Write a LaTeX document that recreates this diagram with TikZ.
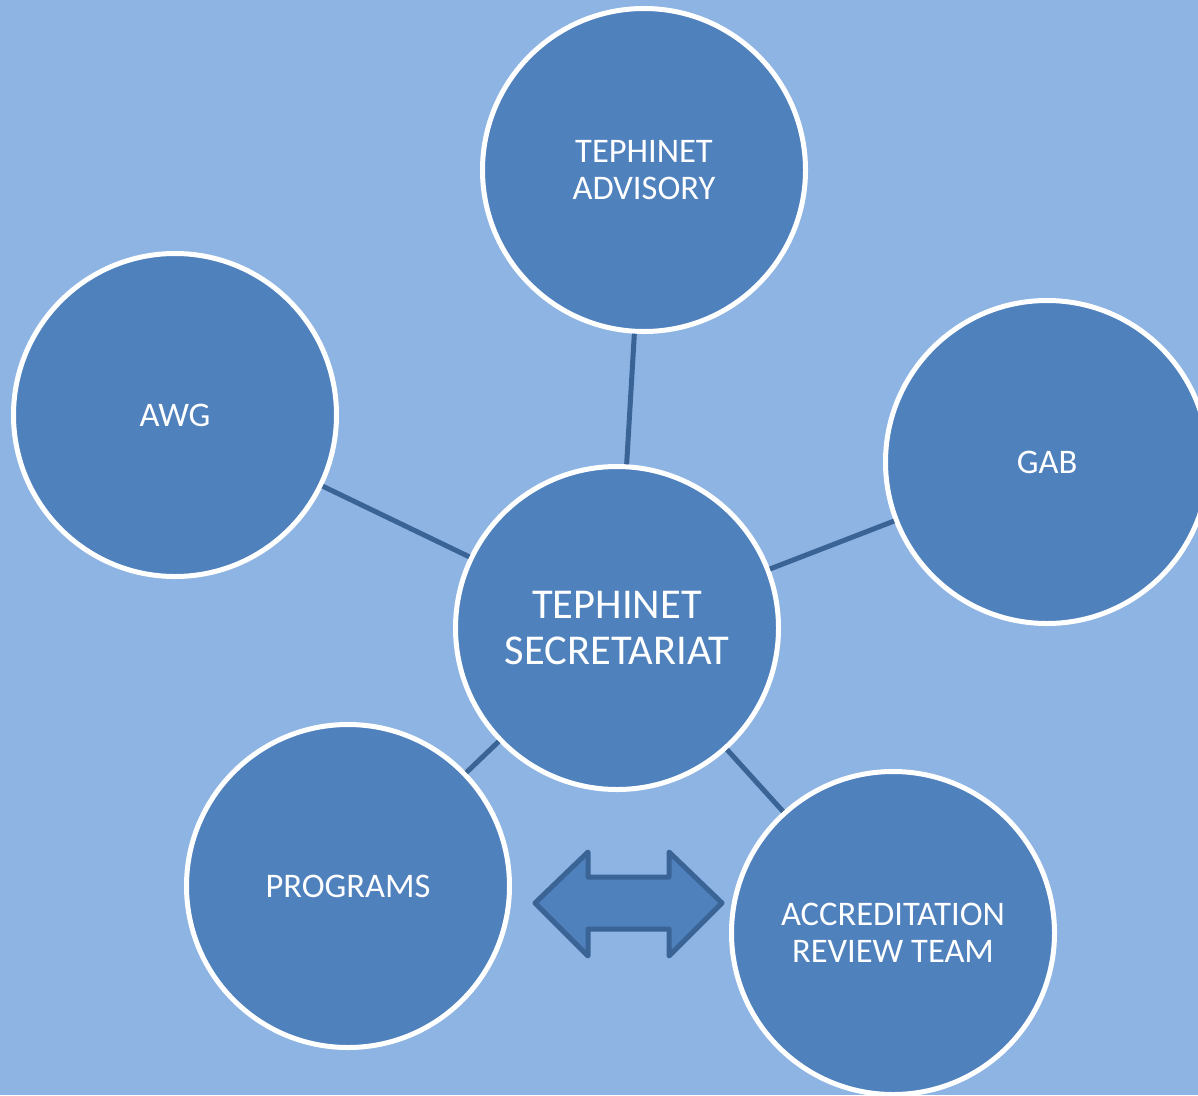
\documentclass[tikz,border=0pt]{standalone}
\usepackage{fontspec}
\setmainfont{Carlito}
\definecolor{bgblue}{HTML}{8EB4E3}
\definecolor{fillblue}{HTML}{4F81BD}
\definecolor{darkblue}{HTML}{3A6496}
\tikzset{
  bubble/.style={circle, fill=fillblue, draw=white, line width=5pt, minimum size=323pt,
    inner sep=0pt, text=white, align=center, font=\fontsize{34.5}{37.5}\selectfont},
  bigbubble/.style={bubble, font=\fontsize{42.5}{46}\selectfont},
  conn/.style={draw=darkblue, line width=5pt},
  dblarrow/.style={fill=fillblue, draw=darkblue, line width=5pt, line join=round}
}
\begin{document}
\begin{tikzpicture}[x=1pt,y=-1pt]
\useasboundingbox (0,0) rectangle (1198,1095);
\clip (0,0) rectangle (1198,1095);
\fill[bgblue] (0,0) rectangle (1198,1095);
\node[bubble] (adv) at (644,170) {TEPHINET\\ADVISORY};
\node[bubble] (awg) at (175,415) {AWG};
\node[bubble] (gab) at (1047,462) {GAB};
\node[bigbubble] (sec) at (617,628) {TEPHINET\\SECRETARIAT};
\node[bubble] (prog) at (348,886) {PROGRAMS};
\node[bubble] (acc) at (893,933) {ACCREDITATION\\REVIEW TEAM};
\draw[conn] (adv) -- (sec);
\draw[conn] (awg) -- (sec);
\draw[conn] (gab) -- (sec);
\draw[conn] (prog) -- (sec);
\draw[conn] (acc) -- (sec);
\draw[dblarrow] (535,903) -- (588,852) -- (588,877) -- (669,877) -- (669,852) -- (722,903)
  -- (669,956) -- (669,929) -- (588,929) -- (588,956) -- cycle;
\end{tikzpicture}
\end{document}
